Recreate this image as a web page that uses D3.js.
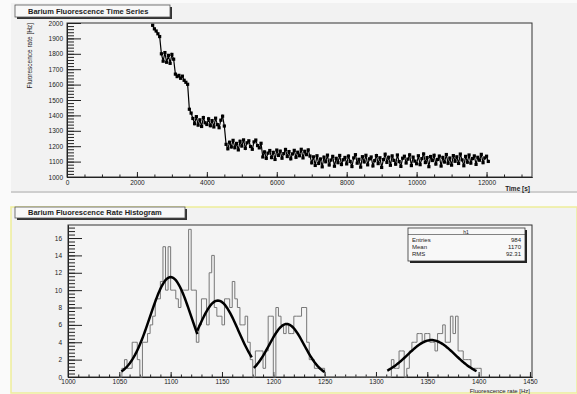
<!DOCTYPE html>
<html>
<head>
<meta charset="utf-8">
<script src="https://cdn.jsdelivr.net/npm/d3@7"></script>
<style>
  body { margin: 0; background: #fafafa; }
  svg { display: block; font-family: "Liberation Sans", Arial, sans-serif; }
</style>
</head>
<body>
<svg id="chart" width="577" height="394"></svg>
<script>
'use strict';

// ---- time series (one reading every 50 s, from 2450 s) ----
var tsStart = 2450, tsStep = 50;
var rates = [
  1985, 1962, 1948, 1930, 1912,
  1800, 1752, 1808, 1745, 1790, 1738, 1796, 1765,
  1668, 1652, 1660, 1641, 1655, 1628, 1615, 1602,
  1440, 1415,
  1380, 1346, 1392, 1337, 1371, 1328, 1386, 1352, 1341, 1378, 1333, 1366, 1325, 1382, 1340, 1320, 1369, 1395, 1331,
  1212, 1183, 1226, 1195, 1238, 1190, 1218, 1176, 1232, 1201, 1241, 1186, 1222, 1235, 1198, 1180, 1228, 1240, 1204, 1189, 1219,
  1130, 1163, 1121, 1155, 1172, 1126, 1160, 1114, 1175, 1140, 1168, 1122, 1152, 1179, 1133, 1165, 1118, 1150, 1173, 1128,
  1161, 1138, 1180, 1124, 1167, 1145, 1176, 1136,
  1092, 1131, 1075, 1138, 1088, 1117, 1066, 1129, 1099, 1142,
  1078, 1110, 1134, 1070, 1121, 1093, 1140, 1081, 1112, 1127,
  1085, 1136, 1101, 1068, 1124, 1145, 1090, 1115, 1064, 1132,
  1098, 1141, 1079, 1118, 1130, 1072, 1106, 1139, 1087, 1125,
  1062, 1113, 1148, 1095, 1128, 1076, 1137, 1108, 1083, 1143,
  1100, 1069, 1122, 1135, 1091, 1116, 1144, 1074, 1129, 1103,
  1086, 1138, 1080, 1119, 1150, 1094, 1126, 1067, 1133, 1107,
  1141, 1084, 1114, 1136, 1071, 1127, 1097, 1146, 1089, 1123,
  1077, 1139, 1102, 1131, 1088, 1149, 1111, 1073, 1134, 1096,
  1143, 1090, 1120, 1137, 1082, 1128, 1109, 1147, 1093, 1124,
  1135, 1101
];
var tsXTicks = [0, 2000, 4000, 6000, 8000, 10000, 12000];
var tsYTicks = [1000, 1100, 1200, 1300, 1400, 1500, 1600, 1700, 1800, 1900, 2000];

// ---- histogram (2.5 Hz bins from 1050 Hz) ----
var binLow = 1050, binWidth = 2.5;
var counts = [
  0, 1, 2, 1, 1, 4, 4, 2, 0, 4,
  4, 5, 6, 7, 9, 9, 11, 15, 10, 15,
  10, 10, 9, 8, 10, 10, 10, 17, 10, 10,
  4, 6, 9, 9, 6, 12, 14, 8, 7, 7,
  6, 9, 9, 8, 11, 9, 8, 6, 6, 7,
  4, 2, 0, 3, 3, 3, 1, 3, 7, 7,
  0, 8, 7, 6, 5, 6, 5, 5, 7, 7,
  7, 8, 8, 4, 2, 2, 1, 1, 1, 1,
  0, 0, 0, 0, 0, 0, 0, 0, 0, 0,
  0, 0, 0, 0, 0, 0, 0, 0, 0, 0,
  0, 0, 0, 0, 0, 0, 2, 1, 1, 3,
  3, 0, 1, 3, 4, 4, 5, 5, 4, 5,
  5, 4, 4, 3, 5, 5, 6, 4, 4, 7,
  5, 7, 3, 3, 2, 2, 2, 1, 1, 1,
  1
];
var hXTicks = [1000, 1050, 1100, 1150, 1200, 1250, 1300, 1350, 1400, 1450];
var hYTicks = [0, 2, 4, 6, 8, 10, 12, 14, 16];

// gaussian fits: amplitude, mean, sigma and fit range
var fitAmps = [11.5, 8.8, 6.1, 4.25];
var fitMeans = [1100, 1146, 1213, 1354];
var fitSigmas = [20, 20, 17, 23];
var fitLo = [1052, 1126, 1181, 1311];
var fitHi = [1126, 1179, 1250, 1398];

var statsLabels = ['Entries', 'Mean', 'RMS'];
var statsValues = ['984', '1170', '92.31'];

var svg = d3.select('#chart');

function titleBox(x, y, w, h, text) {
  svg.append('rect').attr('x', x + 2).attr('y', y + 2).attr('width', w).attr('height', h).attr('fill', '#333');
  svg.append('rect').attr('x', x).attr('y', y).attr('width', w).attr('height', h)
    .attr('fill', '#f8f8f8').attr('stroke', '#555').attr('stroke-width', 0.8);
  svg.append('text').attr('x', x + 13).attr('y', y + h - 3)
    .attr('font-size', 7.5).attr('font-weight', 'bold').attr('fill', '#222').text(text);
}

function styleAxis(g) {
  g.select('.domain').attr('stroke', '#222');
  g.selectAll('.tick line').attr('stroke', '#222');
  g.selectAll('.tick text').attr('font-size', 6.5).attr('fill', '#222')
    .attr('font-family', '"Liberation Sans", Arial, sans-serif');
}

// pads
svg.append('rect').attr('x', 11).attr('y', 3).attr('width', 566).attr('height', 188).attr('fill', '#f2f2f2');
svg.append('line').attr('x1', 11).attr('x2', 577).attr('y1', 192).attr('y2', 192).attr('stroke', '#cfcfcf').attr('stroke-width', 2);
svg.append('rect').attr('x', 11).attr('y', 207).attr('width', 566).attr('height', 186)
  .attr('fill', '#f2f2f2').attr('stroke', '#eeee9a').attr('stroke-width', 1.5);

// ================= top: time series =================
var x1 = d3.scaleLinear().domain([0, 13300]).range([67, 532]);
var y1 = d3.scaleLinear().domain([1000, 2000]).range([177, 23]);

svg.append('rect').attr('x', 67).attr('y', 23).attr('width', 465).attr('height', 154)
  .attr('fill', '#f4f4f4').attr('stroke', '#333').attr('stroke-width', 1);

svg.append('g').attr('transform', 'translate(0,177)')
  .call(d3.axisBottom(x1).tickValues(d3.range(0, 13300, 500)).tickSize(-2.5).tickSizeOuter(0).tickFormat(''))
  .call(styleAxis);
svg.append('g').attr('transform', 'translate(0,177)')
  .call(d3.axisBottom(x1).tickValues(tsXTicks).tickSize(-5).tickSizeOuter(0).tickPadding(3).tickFormat(d3.format('d')))
  .call(styleAxis);
svg.append('g').attr('transform', 'translate(67,0)')
  .call(d3.axisLeft(y1).tickValues(d3.range(1000, 2001, 20)).tickSize(-7).tickSizeOuter(0).tickFormat(''))
  .call(styleAxis);
svg.append('g').attr('transform', 'translate(67,0)')
  .call(d3.axisLeft(y1).tickValues(tsYTicks).tickSize(-14).tickSizeOuter(0).tickPadding(4).tickFormat(d3.format('d')))
  .call(styleAxis);

var tsPoints = rates.map(function (r, i) { return [tsStart + i * tsStep, r]; });
svg.append('path').datum(tsPoints)
  .attr('d', d3.line().x(function (d) { return x1(d[0]); }).y(function (d) { return y1(d[1]); }))
  .attr('fill', 'none').attr('stroke', '#000').attr('stroke-width', 1.2);
svg.append('g').selectAll('rect').data(tsPoints).enter().append('rect')
  .attr('x', function (d) { return x1(d[0]) - 1.6; })
  .attr('y', function (d) { return y1(d[1]) - 1.6; })
  .attr('width', 3.2).attr('height', 3.2).attr('fill', '#000');

svg.append('text').attr('transform', 'translate(32,23) rotate(-90)')
  .attr('text-anchor', 'end').attr('font-size', 6.5).attr('fill', '#222').text('Fluorescence rate [Hz]');
svg.append('text').attr('x', 530).attr('y', 191).attr('text-anchor', 'end')
  .attr('font-size', 6.5).attr('font-weight', 'bold').attr('fill', '#222').text('Time [s]');

titleBox(15, 5, 155, 12, 'Barium Fluorescence Time Series');

// ================= bottom: histogram =================
var x2 = d3.scaleLinear().domain([1000, 1452]).range([68, 532]);
var y2 = d3.scaleLinear().domain([0, 17.5]).range([377, 225]);

svg.append('rect').attr('x', 68).attr('y', 225).attr('width', 464).attr('height', 152)
  .attr('fill', '#f4f4f4').attr('stroke', '#333').attr('stroke-width', 1);

svg.append('g').attr('transform', 'translate(0,377)')
  .call(d3.axisBottom(x2).tickValues(d3.range(1000, 1451, 10)).tickSize(-2.5).tickSizeOuter(0).tickFormat(''))
  .call(styleAxis);
svg.append('g').attr('transform', 'translate(0,377)')
  .call(d3.axisBottom(x2).tickValues(hXTicks).tickSize(-5).tickSizeOuter(0).tickPadding(2).tickFormat(d3.format('d')))
  .call(styleAxis);
svg.append('g').attr('transform', 'translate(68,0)')
  .call(d3.axisLeft(y2).tickValues(d3.range(0, 17.5, 0.4)).tickSize(-7).tickSizeOuter(0).tickFormat(''))
  .call(styleAxis);
svg.append('g').attr('transform', 'translate(68,0)')
  .call(d3.axisLeft(y2).tickValues(hYTicks).tickSize(-14).tickSizeOuter(0).tickPadding(6).tickFormat(d3.format('d')))
  .call(styleAxis);

// step outline of the histogram
var steps = [[binLow, 0]];
counts.forEach(function (c, i) {
  steps.push([binLow + i * binWidth, c]);
  steps.push([binLow + (i + 1) * binWidth, c]);
});
steps.push([binLow + counts.length * binWidth, 0]);
svg.append('path').datum(steps)
  .attr('d', d3.line().x(function (d) { return x2(d[0]); }).y(function (d) { return y2(d[1]); }))
  .attr('fill', 'none').attr('stroke', '#777').attr('stroke-width', 1);

// fitted gaussians
fitMeans.forEach(function (m, k) {
  var pts = d3.range(fitLo[k], fitHi[k] + 0.01, 1).map(function (v) {
    var z = (v - m) / fitSigmas[k];
    return [v, fitAmps[k] * Math.exp(-0.5 * z * z)];
  });
  svg.append('path').datum(pts)
    .attr('d', d3.line().x(function (d) { return x2(d[0]); }).y(function (d) { return y2(d[1]); }))
    .attr('fill', 'none').attr('stroke', '#000').attr('stroke-width', 2.5);
});

svg.append('text').attr('x', 530).attr('y', 392.5).attr('text-anchor', 'end')
  .attr('font-size', 6).attr('fill', '#222').text('Fluorescence rate [Hz]');

// stats box
svg.append('rect').attr('x', 410).attr('y', 230).attr('width', 117).attr('height', 33).attr('fill', '#222');
svg.append('rect').attr('x', 408).attr('y', 228).attr('width', 117).attr('height', 33)
  .attr('fill', '#f8f8f8').attr('stroke', '#333').attr('stroke-width', 0.8);
svg.append('line').attr('x1', 408).attr('x2', 525).attr('y1', 234.5).attr('y2', 234.5).attr('stroke', '#333').attr('stroke-width', 0.6);
svg.append('text').attr('x', 466).attr('y', 233.5).attr('text-anchor', 'middle')
  .attr('font-size', 5).attr('fill', '#222').text('h1');
statsLabels.forEach(function (lab, i) {
  svg.append('text').attr('x', 412).attr('y', 241.5 + i * 7).attr('font-size', 6).attr('fill', '#222').text(lab);
  svg.append('text').attr('x', 521).attr('y', 241.5 + i * 7).attr('text-anchor', 'end')
    .attr('font-size', 6).attr('fill', '#222').text(statsValues[i]);
});

titleBox(15, 207, 170, 11, 'Barium Fluorescence Rate Histogram');
</script>
</body>
</html>
